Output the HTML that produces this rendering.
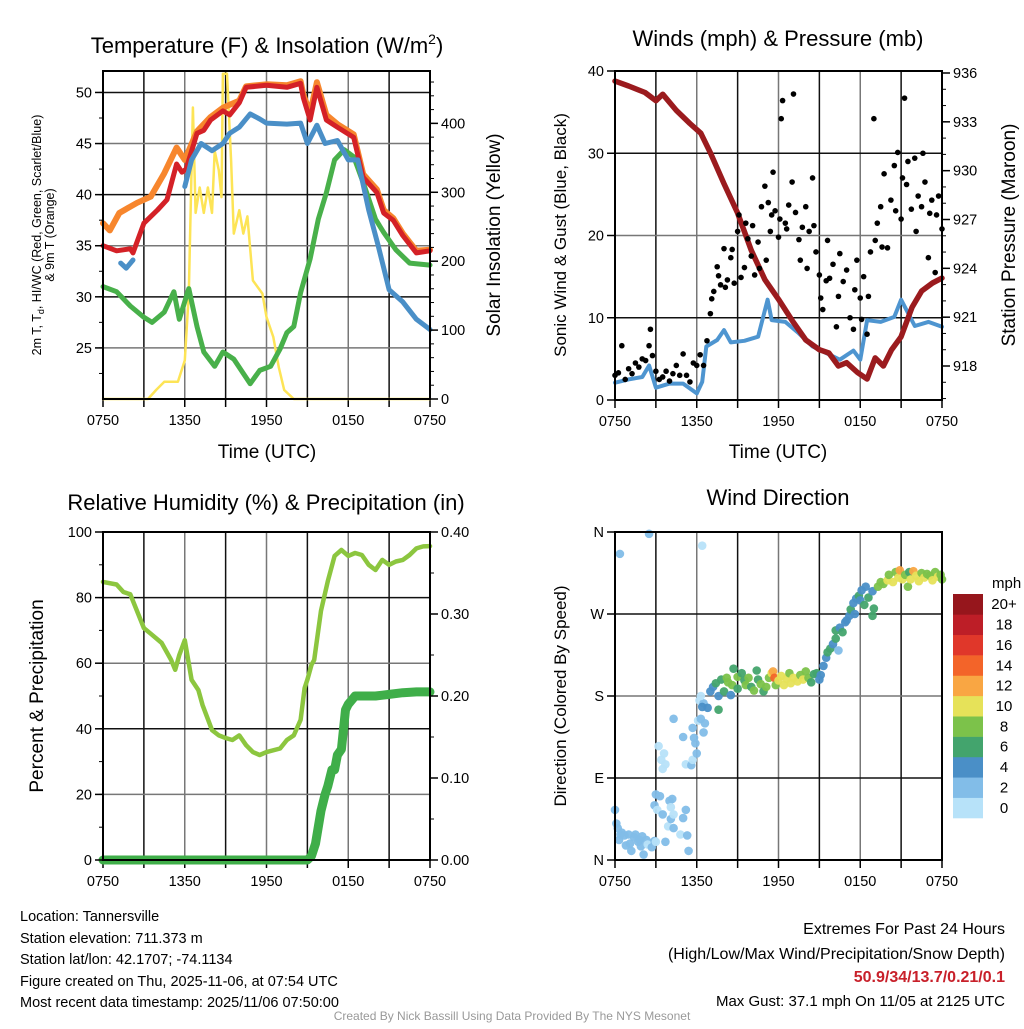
<!DOCTYPE html>
<html><head><meta charset="utf-8">
<style>
html,body{margin:0;padding:0;background:#fff;}
#wrap{position:relative;width:1024px;height:1024px;font-family:"Liberation Sans",sans-serif;}
svg text{font-family:"Liberation Sans",sans-serif;}
</style></head>
<body>
<div id="wrap">
<svg id="svg" width="1024" height="1024" viewBox="0 0 1024 1024" xmlns="http://www.w3.org/2000/svg">
<g id="g"></g>
<text x="267" y="53" font-size="22" text-anchor="middle">Temperature (F) &amp; Insolation (W/m<tspan dy="-9" font-size="14">2</tspan><tspan dy="9">)</tspan></text>
<text x="778" y="46" font-size="22" text-anchor="middle">Winds (mph) &amp; Pressure (mb)</text>
<text x="266" y="510" font-size="22" text-anchor="middle">Relative Humidity (%) &amp; Precipitation (in)</text>
<text x="778" y="505" font-size="22" text-anchor="middle">Wind Direction</text>
<text x="267" y="458" font-size="19" text-anchor="middle">Time (UTC)</text>
<text x="778" y="458" font-size="19" text-anchor="middle">Time (UTC)</text>
<text transform="translate(41,235) rotate(-90)" font-size="12.5" text-anchor="middle">2m T, T<tspan dy="3" font-size="9">d</tspan><tspan dy="-3">, HI/WC (Red, Green, Scarlet/Blue)</tspan></text>
<text transform="translate(54,235) rotate(-90)" font-size="12.5" text-anchor="middle">&amp; 9m T (Orange)</text>
<text transform="translate(500,235) rotate(-90)" font-size="19" text-anchor="middle">Solar Insolation (Yellow)</text>
<text transform="translate(566,235) rotate(-90)" font-size="17" text-anchor="middle">Sonic Wind &amp; Gust (Blue, Black)</text>
<text transform="translate(1015,235) rotate(-90)" font-size="19" text-anchor="middle">Station Pressure (Maroon)</text>
<text transform="translate(43,696) rotate(-90)" font-size="19" text-anchor="middle">Percent &amp; Precipitation</text>
<text transform="translate(566,696) rotate(-90)" font-size="17" text-anchor="middle">Direction (Colored By Speed)</text>
<text x="992" y="588" font-size="15">mph</text>
<g font-size="14.5">
<text x="20" y="921">Location: Tannersville</text>
<text x="20" y="943">Station elevation: 711.373 m</text>
<text x="20" y="964">Station lat/lon: 42.1707; -74.1134</text>
<text x="20" y="986">Figure created on Thu, 2025-11-06, at 07:54 UTC</text>
<text x="20" y="1007">Most recent data timestamp: 2025/11/06 07:50:00</text>
</g>
<g text-anchor="end">
<text x="1005" y="934" font-size="16">Extremes For Past 24 Hours</text>
<text x="1005" y="959" font-size="16">(High/Low/Max Wind/Precipitation/Snow Depth)</text>
<text x="1005" y="982" font-size="16" font-weight="bold" fill="#c8202a">50.9/34/13.7/0.21/0.1</text>
<text x="1005" y="1006" font-size="15">Max Gust: 37.1 mph On 11/05 at 2125 UTC</text>
</g>
<text x="512" y="1020" font-size="12" fill="#999" text-anchor="middle">Created By Nick Bassill Using Data Provided By The NYS Mesonet</text>
</svg>
</div>
<script>
// ---- data ----
const xTickLabels = ["0750","1350","1950","0150","0750"];
const redT = [0,1,2,2.2,3,4,4.7,5.4,5.8,6.1,6.9,7.4,7.9,8.8,9.3,10,10.5,12,13.5,14.5,14.7,15.2,15.7,16.4,17.2,18.4,19.1,20.1,20.6,21.3,22,23,24];
const redV = [35,34.5,34.7,34.3,37.2,38.5,39.5,43,42.2,42.5,46,46.3,47.3,48.2,47.8,49,50.5,50.7,50.5,50.9,49.5,47.3,50.5,47.3,46.6,45.6,41.7,40.2,38.2,37.5,36,34.3,34.5];
const orangeT = [0,0.5,1.2,2.5,3.5,4.5,5.4,6,6.9,7.9,8.8,10,10.5,12,13.5,14.5,14.7,15.2,15.7,16.4,17.2,18.4,19.1,20.1,20.6,21.3,22,23,24];
const orangeV = [37.2,36.5,38.2,39.2,39.8,42.1,44.6,43.4,46.2,47.6,48.5,49.2,50.6,50.8,50.7,51.1,49.8,48,51,47.8,46.9,45.9,42,40.5,38.5,37.7,36.2,34.5,34.6];
const blueT1 = [1.3,1.7,2.2];
const blueV1 = [33.3,32.8,33.6];
const blueT2 = [6,6.5,7.2,8,8.8,9.3,10,10.8,11.5,12,13.5,14.5,15,15.7,16.3,17.2,18,18.7,19.5,20.2,21,22,23,24];
const blueV2 = [40.8,43.4,45,44.3,45,46,46.6,47.9,47.4,47,46.9,47,45,46.8,45,45.3,43.4,43.4,38.5,35,30.7,29.5,27.8,26.8];
const greenT = [0,1,2,3,3.6,4.5,5.2,5.6,6.3,6.9,7.4,8.2,8.8,9.6,10.4,10.8,11.5,12.3,13,13.5,14,14.5,15.2,15.8,16.4,17,17.7,18.4,19.2,20,20.6,21.5,22.5,24];
const greenV = [31,30.5,29.1,28,27.5,28.5,30.5,27.8,30.8,27.1,24.6,23.2,24.6,23.9,22.3,21.5,22.8,23.2,24.9,26.5,27.1,30.4,33.7,37.6,40.2,43.4,44.4,43.7,40.8,37.6,36.3,34.6,33.3,33.1];
const solarT = [0,3.3,3.9,4.5,5.5,6,6.3,6.6,6.8,7.1,7.4,7.7,8,8.2,8.5,8.7,8.8,9.1,9.4,9.6,10,10.3,10.6,11,11.7,12,12.5,12.9,13.3,14,24];
const solarV = [0,0,13,25,25,56,153,423,270,307,270,307,270,360,332,293,472,472,346,240,274,240,265,172,153,119,90,46,13,0,0];
const presT = [0,1,2.2,3,3.5,4.5,5.5,6.3,7,8,9,10,11,12,13,14,15,15.7,16.4,17,17.8,18.5,19.1,19.7,20.3,21,21.8,22.5,23.3,24];
const presV = [935.5,935.2,934.8,934.3,934.7,933.7,932.9,932.3,931.1,929.2,927.4,925.1,923.3,922.1,920.8,919.6,919,918.8,918,918.2,917.6,917.2,918.5,918,919,919.8,921.6,922.6,923.1,923.4];
const windT = [0,1,2,2.5,3,4,5,6,6.4,6.7,7.5,8,8.5,9.5,10.5,11.2,11.5,12.5,13.5,14.5,15.5,16.5,17.5,18,18.5,19.5,20.5,21,22,23,24];
const windV = [2.1,2.5,2.8,4.2,1.5,2,2,0.8,2.2,6.5,7.3,8.5,7,7.2,7.7,12.2,9.7,9.5,8.1,6.5,5.7,4.9,6,4.9,9.7,9.5,10.1,12.2,9,9.5,8.9];
const gustT = [0,0.25,0.5,0.75,1,1.25,1.5,1.75,2,2.25,2.5,2.6,2.75,3,3.25,3.5,3.75,4,4.25,4.5,4.75,5,5.25,5.5,5.75,6,6.25,6.5,6.75,7,7.1,7.25,7.5,7.6,7.75,8,8.1,8.25,8.5,8.6,8.75,9,9.1,9.25,9.5,9.6,9.75,10,10.1,10.25,10.5,10.6,10.75,11,11.1,11.25,11.4,11.5,11.6,11.75,12,12.1,12.2,12.3,12.5,12.6,12.75,13,13.1,13.25,13.5,13.6,13.75,14,14.1,14.25,14.5,14.6,14.75,15,15.1,15.25,15.5,15.6,15.75,16,16.25,16.4,16.5,16.75,17,17.25,17.5,17.6,17.75,18,18.1,18.25,18.5,18.6,18.75,19,19.1,19.25,19.5,19.6,19.75,20,20.25,20.5,20.6,20.75,21,21.1,21.25,21.4,21.5,21.75,22,22.1,22.25,22.5,22.6,22.75,23,23.1,23.25,23.5,23.6,23.75,24];
const gustV = [3,3.3,6.6,2.5,3.8,3.2,4.5,4,5,4.8,6.6,8.6,5.4,3.5,2.5,2.8,3.5,2.3,3.2,4.2,3,5.6,3,2.2,4.5,4.2,5.5,4.2,7.2,10.5,12.3,13.2,16.2,15.1,14,18.4,13.7,14.6,17.3,18.3,14.2,20.5,22.5,14.9,16.1,21.5,19.6,17.5,21.2,15.2,19.2,16,23.5,26,17,24,20.5,22.5,27.7,23,19.8,22,34.2,36.4,21.5,20.8,23.7,26.5,37.2,22.8,19.5,17,21,23.5,16,20.5,27,21.2,18,15.2,12.4,11,14.5,19.4,14.8,16.5,8.9,12.6,17.8,14.4,15.8,10,8.6,13.4,17,12.4,9.8,15,8,12.6,18,34.2,19.4,21.5,23.5,18.6,27.5,18.5,24.3,28.5,23,30.1,22,27,36.7,26.2,29,23.2,29.4,20.5,24.8,23.5,30,26.5,17.3,22.7,24.3,15.5,22.5,24.8,20.8];
const rhT = [0,1,1.5,2,3,3.5,4.3,5,5.3,5.6,6,6.5,7,7.3,8,8.5,9,9.5,10,10.5,11,11.5,12,13,13.5,14,14.5,14.8,15,15.3,15.5,16,16.5,17,17.5,18,18.5,19,19.5,20,20.5,21,21.5,22,22.5,23,23.5,24];
const rhV = [84.8,84,81.7,81,70.7,69,66.2,61,58,62.5,67,54.9,51.8,47.3,39.6,38,37.2,36.6,38,35,32.9,32,32.9,34,36.6,38,42.7,52.4,55,59.5,61,76,85,92.7,94.5,92.7,93.6,93,90,88.4,91.5,90,91,91.5,93,95,95.6,95.7];
const prT = [0,15,15.3,15.6,16,16.3,16.5,16.8,17,17.2,17.5,17.8,18,18.5,20,21,22,23,24];
const prV = [0,0,0.005,0.02,0.06,0.08,0.09,0.11,0.11,0.128,0.135,0.183,0.19,0.2,0.2,0.202,0.204,0.205,0.205];
const dirT = [0,0.1,0.2,0.3,0.4,0.5,0.7,0.8,1,1.1,1.2,1.4,1.5,1.7,1.8,1.9,2.0,2.1,2.3,2.4,2.7,2.9,3.0,2.9,3.0,3.1,3.3,3.5,3.7,3.9,4.0,4.1,4.2,4.1,4.3,4.3,4.8,5.0,5.3,5.4,5.2,0.36,2.5,6.4,3.2,3.4,3.5,3.6,3.7,4.3,5.0,5.2,5.6,5.7,5.7,5.9,5.8,6.0,6.1,6.3,6.2,6.5,6.6,6.5,6.3,6.4,6.8,7.0,7.2,7.4,7.6,7.6,7.8,8.0,8.2,8.3,8.5,8.7,8.6,9.0,9.0,9.3,9.5,9.6,9.8,10,10.2,10.4,10.5,10.7,10.9,11.1,11.3,11.5,11.6,11.7,11.8,12,12.2,12.4,12.6,12.8,12.9,13.1,13.4,13.6,13.8,14,14.2,14.4,14.6,14.8,15.0,15.1,15.3,15.5,15.6,15.8,16.0,16.2,16.4,16.2,16.5,16.7,16.9,17.0,17.2,17.3,17.5,17.6,17.7,17.9,18.0,18.1,18.3,18.4,18.6,18.9,18.9,19.0,19.3,19.5,19.7,20,20.1,20.4,20.6,20.8,20.9,21.1,21.3,21.5,21.6,21.7,21.9,22.1,22.3,22.5,22.7,22.9,23.1,23.3,23.5,23.7,23.9,24];
const dirV = [55,40,35,22,28,30,27,16,28,18,10,25,28,20,22,15,26,6,22,17,14,21,20,60,72,55,70,50,20,37,65,45,67,58,50,35,28,46,27,10,55,336,358,345,125,110,100,117,105,155,135,105,104,110,145,128,134,117,153,155,175,140,150,172,180,168,167,185,190,194,180,165,198,185,200,195,181,210,192,188,201,205,197,192,200,190,186,208,198,193,185,190,200,205,207,200,192,197,202,192,199,205,194,200,196,203,198,207,200,195,204,205,198,203,213,222,228,232,237,243,230,252,255,250,261,263,268,275,282,270,287,290,285,296,280,300,288,295,268,276,300,305,303,307,313,305,316,310,318,308,313,300,316,308,317,312,306,315,310,314,312,307,316,311,313,308];
const dirS = [3,3,2,3,2.5,3,3,3,3,3,3,3,3,3,2,3,3,3.5,3,1,3,3,1,3,3,1,3,3,3,1,3,3,3,1,1,3,1,3,3,3,3,3,3,1,1,1,1,1,1,3,3,1,3,1,3,3,3,3,1,3,1,3,3,3,1,5,5,4,5,7,5,6,7,7,8,8,5,7,8,7,8,7,6,8,8,7,8,7,7,8,7,8,8,11,13,15,8,11,10,11,10,9,11,11,10,8,10,8,8,7,6,6,5,4,4,5,7,7,5,7,3,7,5,6,4,5,4,6,5,4,5,6,4,4,6,4,6,4,6,6,8,9,8,10,8,10,8,10,12,10,9,8,6,10,13,10,10,9,10,8,9,10,8,10,8,8];
const cbLabels = ["0","2","4","6","8","10","12","14","16","18","20+"];
const cbColors = ["#b7e2f9","#82bde8","#4a8fc7","#43a46d","#7cc24a","#e6e259","#f9a643","#f36429","#e0372a","#bd1e27","#96161c"];

// ---- drawing ----
const NS="http://www.w3.org/2000/svg";
const G=document.getElementById('g');
function mk(tag,attrs,parent){const e=document.createElementNS(NS,tag);for(const k in attrs)e.setAttribute(k,attrs[k]);(parent||G).appendChild(e);return e;}
function lin(d0,d1,r0,r1){return v=>r0+(v-d0)*(r1-r0)/(d1-d0);}
function pathOf(ts,vs,sx,sy){return ts.map((t,i)=>(i?'L':'M')+sx(t).toFixed(1)+','+sy(vs[i]).toFixed(1)).join('');}
function txt(x,y,s,anchor,size,parent){const e=mk('text',{x:x,y:y,'text-anchor':anchor,'font-size':size},parent);e.textContent=s;return e;}

function panel(name,x0,x1,y0,y1){
  const g=mk('g',{});
  
  
  const sx=lin(0,24,x0,x1);
  for(let h=3;h<24;h+=3){const l=mk('line',{x1:sx(h),x2:sx(h),y1:y0,y2:y1,stroke:(h%6==0)?'#777':'#111','stroke-width':1.5},g);
    
    }
  for(let h=0;h<=24;h+=3){mk('line',{x1:sx(h),x2:sx(h),y1:y1,y2:y1+8,stroke:'#000','stroke-width':1.5},g);}
  xTickLabels.forEach((s,i)=>{const t=txt(sx(i*6),y1+26,s,'middle',14.5,g);
    
    });
  return {g,sx};
}
function hgrid(g,ys,x0,x1){ys.forEach((y,i)=>{const l=mk('line',{x1:x0,x2:x1,y1:y,y2:y,stroke:i%2?'#777':'#111','stroke-width':1.5},g);
  
  });}
function frame(g,x0,x1,y0,y1){const r=mk('rect',{x:x0,y:y0,width:x1-x0,height:y1-y0,fill:'none',stroke:'#000','stroke-width':2},g);
  
  }
function yTicks(g,x,vals,sy,labels,side){vals.forEach((v,i)=>{const y=sy(v);
  mk('line',{x1:x,x2:x+(side<0?-8:8),y1:y,y2:y,stroke:'#000','stroke-width':1.5},g);
  const t=txt(side<0?x-11:x+11,y+5,labels[i],side<0?'end':'start',14.5,g);
  
  });}
function minor(g,x,a,b,step,sy,side){for(let v=a;v<=b+1e-9;v+=step){const y=sy(v);mk('line',{x1:x,x2:x+(side<0?-4:4),y1:y,y2:y,stroke:'#000','stroke-width':1},g);}}
function line(g,name,ts,vs,sx,sy,color,w){const p=mk('path',{d:pathOf(ts,vs,sx,sy),fill:'none',stroke:color,'stroke-width':w,'stroke-linejoin':'round','stroke-linecap':'round'},g);
  
  return p;}

// Panel 1
{const X0=103,X1=430,Y0=71,Y1=399;
 const P=panel('temperature-panel',X0,X1,Y0,Y1);const g=P.g,sx=P.sx;
 const sy=lin(20,52.1,Y1,Y0), sr=lin(0,476,Y1,Y0);
 hgrid(g,[50,45,40,35,30,25].map(sy),X0,X1);
 line(g,'solar-line',solarT,solarV,sx,sr,'#fde456',2.5);
 line(g,'dewpoint-line',greenT,greenV,sx,sy,'#48b04a',5);
 line(g,'temp-9m-line',orangeT,orangeV,sx,sy,'#f7862d',6);
 line(g,'temp-2m-line',redT,redV,sx,sy,'#d42127',5);
 line(g,'windchill-line-1',blueT1,blueV1,sx,sy,'#4a8fc7',5);
 line(g,'heat-index-line',blueT2,blueV2,sx,sy,'#4a8fc7',5);
 frame(g,X0,X1,Y0,Y1);
 yTicks(g,X0,[25,30,35,40,45,50],sy,["25","30","35","40","45","50"],-1);
 minor(g,X0,22.5,52,2.5,sy,-1);
 yTicks(g,X1,[0,100,200,300,400],sr,["0","100","200","300","400"],1);
 minor(g,X1,0,470,20,sr,1);}

// Panel 2
{const X0=615,X1=942,Y0=71,Y1=400;
 const P=panel('winds-panel',X0,X1,Y0,Y1);const g=P.g,sx=P.sx;
 const sy=lin(0,40,Y1,Y0), sp=lin(918,936,366,73);
 hgrid(g,[30,20,10].map(sy),X0,X1);
 line(g,'sonic-wind-line',windT,windV,sx,sy,'#4e95d0',4);
 line(g,'pressure-line',presT,presV,sx,sp,'#9b1b1e',5.5);
 gustT.forEach((t,i)=>{const c=mk('circle',{cx:sx(t),cy:sy(gustV[i]),r:2.8,fill:'#000'},g);
   
   });
 frame(g,X0,X1,Y0,Y1);
 yTicks(g,X0,[0,10,20,30,40],sy,["0","10","20","30","40"],-1);
 yTicks(g,X1,[918,921,924,927,930,933,936],sp,["918","921","924","927","930","933","936"],1);
 minor(g,X1,916,936,1,sp,1);}

// Panel 3
{const X0=103,X1=430,Y0=532,Y1=860;
 const P=panel('humidity-panel',X0,X1,Y0,Y1);const g=P.g,sx=P.sx;
 const sy=lin(0,100,Y1,Y0), sr=lin(0,0.4,Y1,Y0);
 hgrid(g,[80,60,40,20].map(sy),X0,X1);
 line(g,'humidity-line',rhT,rhV,sx,sy,'#8cc63f',4.5);
 line(g,'precip-line',prT,prV,sx,sr,'#3fae49',9);
 frame(g,X0,X1,Y0,Y1);
 yTicks(g,X0,[0,20,40,60,80,100],sy,["0","20","40","60","80","100"],-1);
 minor(g,X0,0,100,10,sy,-1);
 yTicks(g,X1,[0,0.1,0.2,0.3,0.4],sr,["0.00","0.10","0.20","0.30","0.40"],1);
 minor(g,X1,0,0.4,0.05,sr,1);}

// Panel 4
{const X0=615,X1=942,Y0=532,Y1=860;
 const P=panel('wind-direction-panel',X0,X1,Y0,Y1);const g=P.g,sx=P.sx;
 const sy=lin(0,360,Y1,Y0);
 hgrid(g,[270,180,90].map(sy),X0,X1);
 dirT.forEach((t,i)=>{const bin=Math.min(10,Math.floor(dirS[i]/2));
   const c=mk('circle',{cx:sx(t),cy:sy(dirV[i]),r:4.3,fill:cbColors[bin],'fill-opacity':0.95},g);
   
   });
 frame(g,X0,X1,Y0,Y1);
 yTicks(g,X0,[0,90,180,270,360],sy,["N","E","S","W","N"],-1);
 const cb=mk('g',{});
 
 
 const bh=224/11;
 cbColors.forEach((c,i)=>{const y=818-(i+1)*bh;
   const r=mk('rect',{x:953,y:y,width:30,height:bh+0.3,fill:c},cb);
   
   
   const t=txt(1004,y+bh/2+5,cbLabels[i],'middle',15,cb);
   
   });}
</script>
</body></html>
